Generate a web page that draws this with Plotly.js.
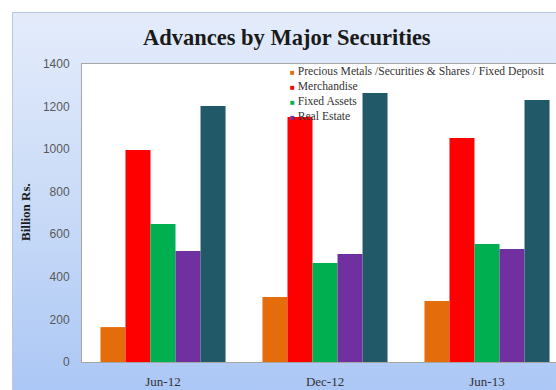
<!DOCTYPE html>
<html>
<head>
<meta charset="utf-8">
<script src="https://cdn.plot.ly/plotly-3.0.1.min.js"></script>
<style>
html,body{margin:0;padding:0;width:556px;height:390px;overflow:hidden;background:#fff;}
#frame{position:absolute;left:12px;top:12px;width:620px;height:400px;border:1px solid #b9c9e0;
background:linear-gradient(to bottom,#e4ecfb 0%,#c8daf7 50%,#a8c5f5 100%);}
#chart{position:absolute;left:0;top:0;width:600px;height:390px;}
</style>
</head>
<body>
<div id="frame"></div>
<div id="chart"></div>
<script>
var categories = ["Jun-12", "Dec-12", "Jun-13"];
var seriesNames = ["Precious Metals /Securities & Shares / Fixed Deposit", "Merchandise", "Fixed Assets", "Real Estate", "Others"];
var preciousMetals = [164, 305, 287];
var merchandise = [996, 1151, 1052];
var fixedAssets = [648, 465, 554];
var realEstate = [521, 507, 531];
var others = [1203, 1264, 1231];
var yTicks = [0, 200, 400, 600, 800, 1000, 1200, 1400];

var colors = ["#E46C0A", "#FF0000", "#00B050", "#7030A0", "#215968"];
var values = [preciousMetals, merchandise, fixedAssets, realEstate, others];

var traces = values.map(function (v, i) {
  return {
    type: "bar",
    x: categories,
    y: v,
    name: seriesNames[i],
    marker: {color: colors[i], line: {width: 0}},
    showlegend: false,
    hoverinfo: "none"
  };
});

var serif = "Liberation Serif, Times New Roman, serif";
var plotTop = 64, plotH = 298, plotL = 82, plotW = 486;

// legend drawn as text rows (first four series, as in the reference)
var legendAnn = seriesNames.slice(0, 4).map(function (name, i) {
  var py = 71 + i * 15;
  return {
    text: '<span style="color:' + colors[i] + ';font-size:8px">\u25A0</span> ' + name.replace(/&/g, "&amp;"),
    xref: "paper", yref: "paper",
    x: (288 - plotL) / plotW, y: (plotTop + plotH - py) / plotH,
    xanchor: "left", yanchor: "middle",
    showarrow: false,
    font: {family: serif, size: 11.6, color: "#333333"}
  };
});

var layout = {
  width: 600,
  height: 390,
  margin: {l: 82, r: 32, t: 64, b: 28},
  paper_bgcolor: "rgba(0,0,0,0)",
  plot_bgcolor: "#ffffff",
  barmode: "group",
  bargap: 0.228,
  bargroupgap: 0,
  showlegend: false,
  title: {
    text: "<b>Advances by Major Securities</b>",
    font: {family: serif, size: 22.5, color: "#1a1a1a"},
    xref: "container", x: 0.478, xanchor: "center",
    yref: "container", y: 0.905, yanchor: "middle"
  },
  xaxis: {
    type: "category",
    range: [-0.5, 2.5],
    showgrid: false,
    showline: true, linecolor: "#a6a6a6", linewidth: 1, mirror: true,
    ticks: "outside", ticklen: 7, tickcolor: "rgba(0,0,0,0)",
    tickfont: {family: serif, size: 13, color: "#333333"}
  },
  yaxis: {
    range: [0, 1400],
    tickvals: yTicks,
    ticktext: yTicks.map(String),
    showgrid: false,
    zeroline: false,
    showline: true, linecolor: "#a6a6a6", linewidth: 1, mirror: true,
    ticks: "outside", ticklen: 9, tickcolor: "rgba(0,0,0,0)",
    tickfont: {family: "Liberation Sans, Arial, sans-serif", size: 12, color: "#595959"}
  },
  annotations: [{
    text: "<b>Billion Rs.</b>",
    xref: "paper", yref: "paper",
    x: (26 - plotL) / plotW, y: (plotTop + plotH - 212) / plotH,
    xanchor: "center", yanchor: "middle",
    textangle: -90,
    showarrow: false,
    font: {family: serif, size: 13, color: "#1a1a1a"}
  }].concat(legendAnn)
};

Plotly.newPlot("chart", traces, layout, {staticPlot: true, displayModeBar: false});
</script>
</body>
</html>
